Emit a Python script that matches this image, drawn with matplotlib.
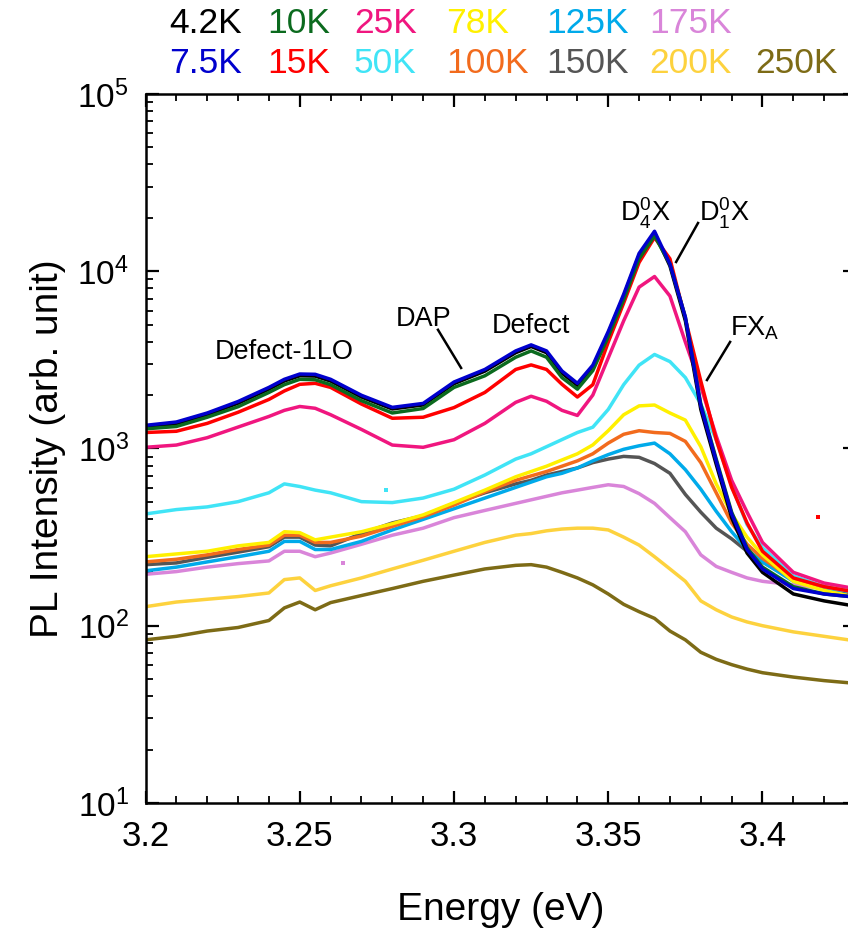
import matplotlib.pyplot as plt
from matplotlib.ticker import MultipleLocator, LogLocator, FormatStrFormatter, NullFormatter

plt.rcParams['font.family'] = ['Liberation Sans', 'DejaVu Sans']
plt.rcParams['mathtext.fontset'] = 'custom'
plt.rcParams['mathtext.rm'] = 'Liberation Sans'
plt.rcParams['mathtext.it'] = 'Liberation Sans:italic'

# photon energy (eV)
energy = [3.200, 3.210, 3.220, 3.230, 3.240, 3.245, 3.250, 3.255, 3.260, 3.270,
          3.280, 3.290, 3.300, 3.310, 3.320, 3.325, 3.330, 3.335, 3.340, 3.345,
          3.350, 3.355, 3.360, 3.365, 3.370, 3.375, 3.380, 3.385, 3.390, 3.395,
          3.400, 3.410, 3.420, 3.430]

# PL intensity (arb. unit) for each temperature
pl_4K2 = [1320, 1380, 1550, 1800, 2160, 2400, 2570, 2560, 2400, 1950,
          1670, 1760, 2320, 2730, 3470, 3760, 3470, 2660, 2270, 2880,
          4470, 7240, 12300, 16400, 10700, 5250, 1660, 813, 407, 257,
          200, 151, 138, 129]
pl_7K5 = [1350, 1410, 1585, 1840, 2210, 2455, 2630, 2620, 2455, 1995,
          1705, 1795, 2370, 2790, 3550, 3840, 3550, 2735, 2330, 2950,
          4570, 7410, 12600, 16800, 10970, 5500, 1740, 850, 427, 269,
          209, 162, 151, 145]
pl_10K = [1290, 1330, 1500, 1720, 2070, 2290, 2455, 2440, 2290, 1860,
          1585, 1680, 2210, 2570, 3270, 3550, 3270, 2510, 2160, 2750,
          4270, 6920, 11750, 15850, 10970, 5500, 1780, 871, 437, 275,
          214, 166, 151, 145]
pl_15K = [1230, 1250, 1385, 1600, 1890, 2110, 2300, 2330, 2210, 1780,
          1480, 1500, 1700, 2070, 2790, 2960, 2790, 2300, 1950, 2290,
          3980, 6610, 11200, 15500, 11750, 5370, 2400, 1120, 603, 380,
          263, 186, 166, 155]
pl_25K = [1015, 1045, 1150, 1320, 1515, 1640, 1725, 1685, 1550, 1280,
          1045, 1015, 1120, 1385, 1820, 1970, 1845, 1640, 1535, 2000,
          3240, 5250, 8130, 9330, 7240, 3980, 2240, 1175, 661, 437,
          295, 200, 174, 162]
pl_50K = [427, 452, 468, 501, 562, 631, 610, 582, 562, 501,
          495, 525, 589, 708, 871, 933, 1023, 1122, 1230, 1318,
          1660, 2290, 2950, 3390, 3090, 2510, 1780, 1120, 617, 372,
          275, 191, 166, 155]
pl_78K = [245, 254, 263, 282, 295, 339, 335, 305, 316, 339,
          376, 422, 495, 582, 692, 741, 794, 861, 933, 1047,
          1259, 1549, 1738, 1758, 1585, 1445, 1023, 631, 427, 316,
          251, 178, 158, 145]
pl_100K = [229, 237, 251, 269, 285, 324, 324, 295, 295, 320,
           363, 412, 479, 569, 661, 700, 741, 794, 851, 933,
           1072, 1202, 1259, 1230, 1216, 1096, 832, 562, 380, 288,
           240, 182, 166, 155]
pl_125K = [204, 214, 229, 245, 263, 299, 299, 269, 269, 299,
           347, 398, 457, 525, 603, 646, 692, 724, 776, 851,
           923, 989, 1035, 1072, 933, 759, 589, 442, 339, 269,
           229, 178, 162, 155]
pl_150K = [221, 226, 243, 260, 279, 316, 316, 285, 282, 331,
           380, 417, 490, 562, 631, 661, 708, 741, 776, 832,
           871, 902, 891, 822, 724, 550, 437, 355, 309, 263,
           229, 182, 166, 151]
pl_175K = [195, 202, 214, 224, 232, 263, 263, 245, 257, 288,
           324, 355, 407, 447, 490, 513, 537, 562, 582, 603,
           624, 610, 556, 490, 407, 339, 251, 216, 200, 186,
           178, 170, 162, 155]
pl_200K = [128, 136, 141, 146, 153, 182, 186, 158, 168, 186,
           209, 234, 263, 295, 324, 331, 343, 351, 355, 355,
           347, 316, 285, 245, 209, 178, 138, 123, 112, 105,
           100, 92.3, 87.1, 82.2]
pl_250K = [83.2, 87.1, 93.3, 97.7, 107, 126, 136, 123, 135, 148,
           162, 178, 193, 209, 219, 221, 214, 200, 186, 170,
           151, 132, 120, 110, 93.3, 83.2, 70.8, 64.6, 60.3, 56.9,
           54.3, 51.3, 49.0, 47.3]

# a few stray points
stray_energy = [3.418, 3.278, 3.264]
stray_pl = [411, 583, 226]
stray_labels = ['15K', '50K', '175K']

temps = ['4.2K', '7.5K', '10K', '15K', '25K', '50K', '78K',
         '100K', '125K', '150K', '175K', '200K', '250K']
series = [pl_4K2, pl_7K5, pl_10K, pl_15K, pl_25K, pl_50K, pl_78K,
          pl_100K, pl_125K, pl_150K, pl_175K, pl_200K, pl_250K]
colors = {'4.2K': '#000000', '7.5K': '#0000CD', '10K': '#0B6A1E', '15K': '#FF0000',
          '25K': '#F0167F', '50K': '#40E4F6', '78K': '#FFF000', '100K': '#F26B1D',
          '125K': '#00AAEA', '150K': '#555555', '175K': '#D985D9', '200K': '#FDD23E',
          '250K': '#7D6B16'}

fig = plt.figure(figsize=(8.48, 9.30), dpi=100)
ax = fig.add_axes([0.1716, 0.1366, 0.8367, 0.7624])

# high temperatures first so the bright low-T curves sit on top
draw_order = ['250K', '200K', '175K', '150K', '125K', '100K', '78K',
              '50K', '25K', '15K', '4.2K', '10K', '7.5K']
for t in draw_order:
    ax.plot(energy, series[temps.index(t)], color=colors[t], lw=2.5,
            solid_joinstyle='round')
for e, v, t in zip(stray_energy, stray_pl, stray_labels):
    ax.plot(e, v, 's', ms=2.5, color=colors[t], mew=0)

ax.set_yscale('log')
ax.set_xlim(3.2, 3.43)
ax.set_ylim(10, 1e5)
ax.xaxis.set_major_locator(MultipleLocator(0.05))
ax.xaxis.set_minor_locator(MultipleLocator(0.01))
ax.xaxis.set_major_formatter(FormatStrFormatter('%g'))
ax.yaxis.set_minor_locator(LogLocator(base=10, subs=range(2, 10), numticks=20))
ax.yaxis.set_minor_formatter(NullFormatter())
ax.tick_params(which='both', direction='in', top=True, right=True)
ax.tick_params(which='major', length=9, width=1.6)
ax.tick_params(which='minor', length=5, width=1.3)
ax.tick_params(axis='x', which='major', labelsize=25, pad=12)
ax.tick_params(axis='y', which='major', labelsize=24, pad=12)
for s in ax.spines.values():
    s.set_linewidth(1.8)

ax.set_xlabel('Energy (eV)', fontsize=28, labelpad=28)
ax.set_ylabel('PL Intensity (arb. unit)', fontsize=28, labelpad=8)

# peak labels
ax.text(3.2225, 3200, 'Defect-1LO', fontsize=19.5, va='baseline')
ax.text(3.2812, 4910, 'DAP', fontsize=19.5, va='baseline')
ax.text(3.3121, 4490, 'Defect', fontsize=19.5, va='baseline')
ax.text(3.3539, 18970, r'$\mathregular{D^0_4X}$', fontsize=19.5, va='baseline')
ax.text(3.3795, 18970, r'$\mathregular{D^0_1X}$', fontsize=19.5, va='baseline')
ax.text(3.3895, 4365, r'$\mathregular{FX_A}$', fontsize=19.5, va='baseline')
ax.plot([3.2948, 3.3023], [4670, 2845], color='black', lw=1.8)
ax.plot([3.3791, 3.3720], [18700, 11270], color='black', lw=1.8)
ax.plot([3.3895, 3.3820], [3990, 2432], color='black', lw=1.8)

# colour-coded temperature key, two rows above the plot
row1 = ['4.2K', '10K', '25K', '78K', '125K', '175K']
row2 = ['7.5K', '15K', '50K', '100K', '150K', '200K', '250K']
col_x = [169, 267, 354, 446, 546, 649, 755]
for row, ypix in [(row1, 33), (row2, 73)]:
    for t, xpix in zip(row, col_x):
        fig.text(xpix / 848, 1 - ypix / 930, t, color=colors[t],
                 fontsize=25.5, va='baseline', ha='left')

fig.savefig('out.png', dpi=100)
